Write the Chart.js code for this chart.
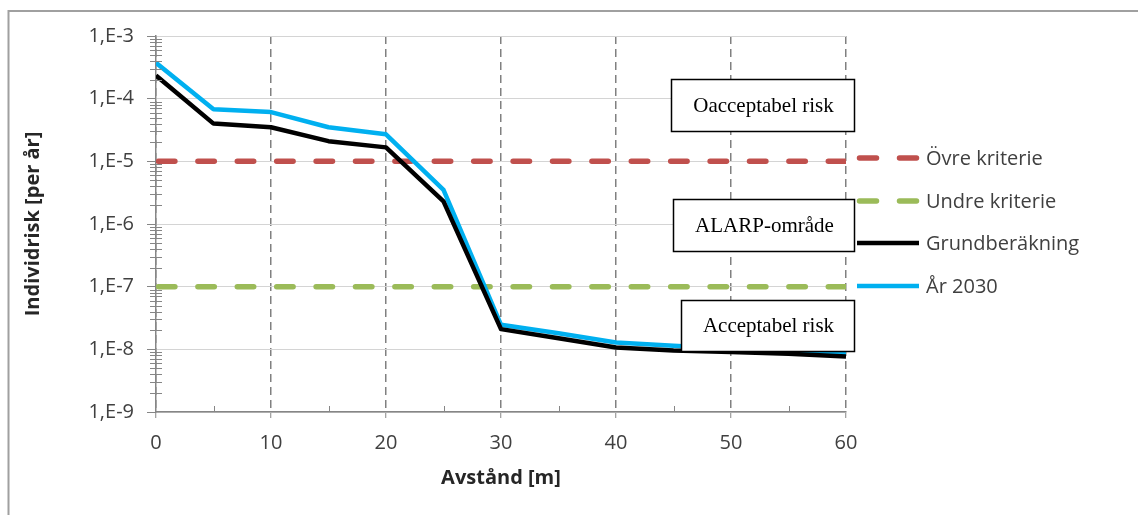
<!DOCTYPE html>
<html>
<head>
<meta charset="utf-8">
<script src="https://cdn.jsdelivr.net/npm/chart.js@4/dist/chart.umd.min.js"></script>
<style>
  html, body { margin: 0; padding: 0; background: #ffffff; }
  #wrap { width: 1138px; height: 515px; position: relative; }
</style>
</head>
<body>
<div id="wrap"><canvas id="c" width="1138" height="515"></canvas></div>
<script>
// ---- data ----
const distances = [0, 5, 10, 15, 20, 25, 30, 35, 40, 45, 50, 55, 60];
const grundberakning = [2.34e-4, 4.0e-5, 3.5e-5, 2.1e-5, 1.67e-5, 2.3e-6, 2.1e-8, 1.5e-8, 1.07e-8, 9.6e-9, 9.1e-9, 8.5e-9, 7.7e-9];
const ar2030 = [3.73e-4, 6.8e-5, 6.1e-5, 3.5e-5, 2.7e-5, 3.5e-6, 2.46e-8, 1.8e-8, 1.29e-8, 1.14e-8, 1.02e-8, 9.5e-9, 8.6e-9];
const kriterieX = [0, 60];
const ovreKriterie = 1e-5;
const undreKriterie = 1e-7;
const yTickValues = [1e-9, 1e-8, 1e-7, 1e-6, 1e-5, 1e-4, 1e-3];
const yMinorMultipliers = [2, 3, 4, 5, 6, 7, 8, 9];
const xMinorTicks = [5, 15, 25, 35, 45, 55];
const seriesNames = ['Övre kriterie', 'Undre kriterie', 'Grundberäkning', 'År 2030'];
const zoneLabels = ['Oacceptabel risk', 'ALARP-område', 'Acceptabel risk'];
const xTitle = 'Avstånd [m]';
const yTitle = 'Individrisk [per år]';

const toPoints = (xs, ys) => xs.map((x, i) => ({ x: x, y: ys[i] }));

const FONT = '"Open Sans", "DejaVu Sans", sans-serif';

// background + outer frame
const framePlugin = {
  id: 'frame',
  beforeDraw(chart) {
    const ctx = chart.ctx;
    ctx.save();
    ctx.fillStyle = '#ffffff';
    ctx.fillRect(0, 0, chart.width, chart.height);
    ctx.strokeStyle = '#a0a0a0';
    ctx.lineWidth = 2;
    ctx.beginPath();
    ctx.moveTo(8.5, chart.height + 5);
    ctx.lineTo(8.5, 11);
    ctx.lineTo(chart.width + 5, 11);
    ctx.stroke();
    ctx.restore();
  }
};

// minor tick marks
const minorTicksPlugin = {
  id: 'minorTicks',
  afterDraw(chart) {
    const ctx = chart.ctx;
    const ys = chart.scales.y, xs = chart.scales.x;
    const area = chart.chartArea;
    ctx.save();
    ctx.strokeStyle = '#868686';
    ctx.lineWidth = 1;
    ctx.beginPath();
    for (let k = -9; k < -3; k++) {
      yMinorMultipliers.forEach(m => {
        const py = Math.round(ys.getPixelForValue(m * Math.pow(10, k))) + 0.5;
        ctx.moveTo(area.left - 6, py);
        ctx.lineTo(area.left + 6, py);
      });
    }
    xMinorTicks.forEach(v => {
      const px = Math.round(xs.getPixelForValue(v)) + 0.5;
      ctx.moveTo(px, area.bottom);
      ctx.lineTo(px, area.bottom - 6);
    });
    ctx.stroke();
    ctx.restore();
  }
};

// zone label boxes
const zoneBoxPlugin = {
  id: 'zoneBoxes',
  afterDatasetsDraw(chart) {
    const ctx = chart.ctx;
    const boxes = [
      { x: 671, y: 79, w: 183, h: 52 },
      { x: 673, y: 199, w: 181, h: 52 },
      { x: 681, y: 300, w: 173, h: 51 }
    ];
    ctx.save();
    ctx.font = '21px "Liberation Serif", "Times New Roman", serif';
    ctx.textAlign = 'center';
    ctx.textBaseline = 'middle';
    boxes.forEach((b, i) => {
      ctx.fillStyle = '#ffffff';
      ctx.fillRect(b.x, b.y, b.w, b.h);
      ctx.strokeStyle = '#000000';
      ctx.lineWidth = 1.5;
      ctx.strokeRect(b.x + 0.5, b.y + 0.5, b.w, b.h);
      ctx.fillStyle = '#000000';
      ctx.fillText(zoneLabels[i], b.x + b.w / 2 + 1, b.y + b.h / 2 + 1);
    });
    ctx.restore();
  }
};

// custom legend on the right
const legendPlugin = {
  id: 'customLegend',
  afterDraw(chart) {
    const ctx = chart.ctx;
    const order = [0, 1, 2, 3];
    const rowY = [158, 201, 243, 286];
    ctx.save();
    ctx.font = '20px ' + FONT;
    ctx.textBaseline = 'middle';
    ctx.textAlign = 'left';
    order.forEach((di, i) => {
      const ds = chart.data.datasets[di];
      ctx.save();
      ctx.strokeStyle = ds.borderColor;
      ctx.lineWidth = ds.borderWidth;
      ctx.lineCap = ds.borderDash ? 'round' : 'butt';
      ctx.setLineDash(ds.borderDash ? [17, 23] : []);
      ctx.lineDashOffset = ds.borderDash ? -2.5 : 0;
      ctx.beginPath();
      ctx.moveTo(857, rowY[i]);
      ctx.lineTo(919, rowY[i]);
      ctx.stroke();
      ctx.restore();
      ctx.fillStyle = '#404040';
      ctx.fillText(ds.label, 926, rowY[i] + 1);
    });
    ctx.restore();
  }
};

const dashedStyle = {
  borderWidth: 5.5,
  borderDash: [16.4, 23],
  borderDashOffset: -2.5,
  borderCapStyle: 'round',
  pointRadius: 0,
  tension: 0,
  fill: false
};
const solidStyle = {
  borderWidth: 4.5,
  borderJoinStyle: 'round',
  borderCapStyle: 'butt',
  pointRadius: 0,
  tension: 0,
  fill: false
};

new Chart(document.getElementById('c'), {
  type: 'line',
  data: {
    datasets: [
      Object.assign({
        label: seriesNames[0],
        data: toPoints(kriterieX, kriterieX.map(() => ovreKriterie)),
        borderColor: '#C0504D',
        order: 3
      }, dashedStyle),
      Object.assign({
        label: seriesNames[1],
        data: toPoints(kriterieX, kriterieX.map(() => undreKriterie)),
        borderColor: '#9BBB59',
        order: 2
      }, dashedStyle),
      Object.assign({
        label: seriesNames[2],
        data: toPoints(distances, grundberakning),
        borderColor: '#000000',
        order: 0
      }, solidStyle),
      Object.assign({
        label: seriesNames[3],
        data: toPoints(distances, ar2030),
        borderColor: '#00B0F0',
        order: 1
      }, solidStyle)
    ]
  },
  options: {
    responsive: false,
    animation: false,
    devicePixelRatio: 1,
    layout: { padding: { left: 0, right: 292, top: 36, bottom: 0 } },
    plugins: {
      legend: { display: false },
      tooltip: { enabled: false }
    },
    scales: {
      x: {
        type: 'linear',
        min: 0,
        max: 60,
        afterFit(scale) { scale.height = 103; },
        ticks: {
          stepSize: 10,
          padding: 13,
          color: '#404040',
          font: { family: FONT, size: 20 }
        },
        grid: {
          color: '#808080',
          lineWidth: 1.5,
          tickLength: 6,
          tickColor: '#868686',
          tickWidth: 1
        },
        border: {
          display: true,
          color: '#868686',
          width: 1.5,
          dash: [8, 5]
        },
        title: {
          display: true,
          text: xTitle,
          color: '#262626',
          font: { family: FONT, size: 20, weight: 'bold' },
          padding: { top: 0, bottom: 25 }
        }
      },
      y: {
        type: 'logarithmic',
        min: 1e-9,
        max: 1e-3,
        afterFit(scale) { scale.width = 156; },
        afterBuildTicks(scale) {
          scale.ticks = yTickValues.map(v => ({ value: v }));
        },
        ticks: {
          padding: 13,
          color: '#404040',
          font: { family: FONT, size: 20 },
          callback(value) {
            const e = Math.round(Math.log10(value));
            return '1,E' + e;
          }
        },
        grid: {
          color: '#d4d4d4',
          lineWidth: 1,
          tickLength: 9,
          tickColor: '#868686',
          tickWidth: 1
        },
        border: {
          display: true,
          color: '#868686',
          width: 1.5
        },
        title: {
          display: true,
          text: yTitle,
          color: '#262626',
          font: { family: FONT, size: 20, weight: 'bold' },
          padding: { top: 21, bottom: 0 }
        }
      }
    }
  },
  plugins: [framePlugin, minorTicksPlugin, zoneBoxPlugin, legendPlugin]
});
</script>
</body>
</html>
